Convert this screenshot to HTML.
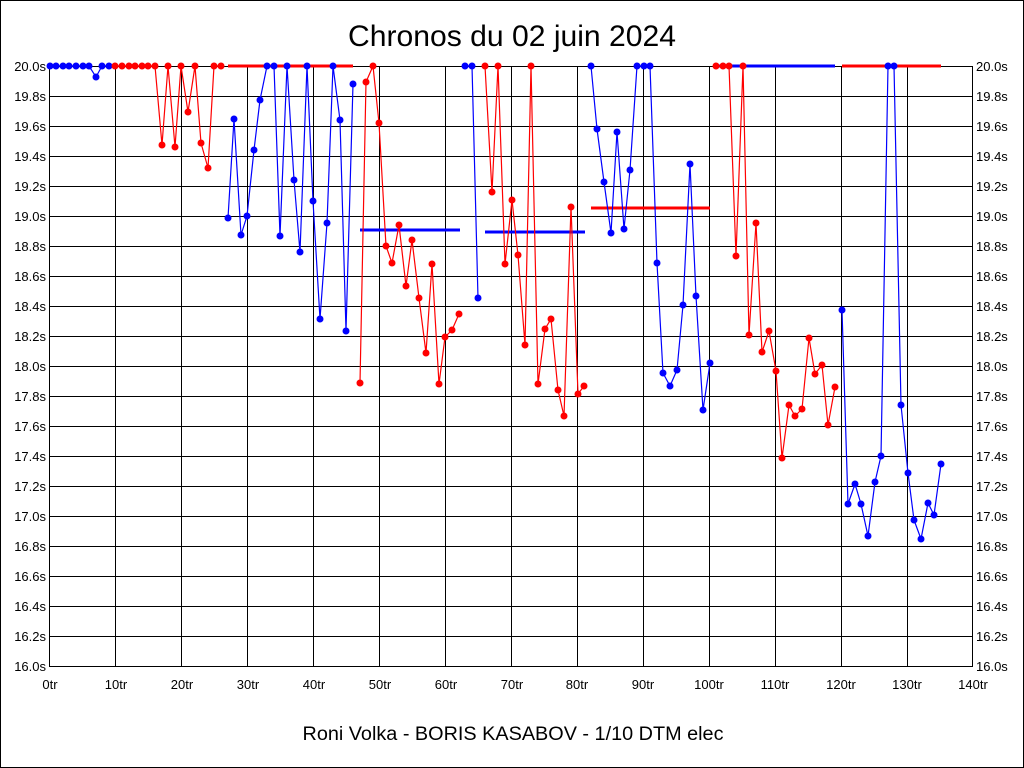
<!DOCTYPE html>
<html><head><meta charset="utf-8"><style>
html,body{margin:0;padding:0;background:#fff}
svg{display:block}
text{font-family:"Liberation Sans",Arial,sans-serif;fill:#000}
</style></head><body>
<svg id="s" width="1024" height="768" viewBox="0 0 1024 768" xmlns="http://www.w3.org/2000/svg">
<rect x="0.5" y="0.5" width="1023" height="767" fill="#fff" stroke="#000"/>
<text x="512" y="46" font-size="30" text-anchor="middle" textLength="328" lengthAdjust="spacingAndGlyphs">Chronos du 02 juin 2024</text>
<g id="grid" stroke="#000" stroke-width="1" fill="none">
<rect x="49.5" y="66.5" width="923" height="600"/>
</g>
<g font-size="13" text-anchor="end">
<text x="46" y="71">20.0s</text><text x="46" y="101">19.8s</text><text x="46" y="131">19.6s</text><text x="46" y="161">19.4s</text><text x="46" y="191">19.2s</text><text x="46" y="221">19.0s</text><text x="46" y="251">18.8s</text><text x="46" y="281">18.6s</text><text x="46" y="311">18.4s</text><text x="46" y="341">18.2s</text><text x="46" y="371">18.0s</text><text x="46" y="401">17.8s</text><text x="46" y="431">17.6s</text><text x="46" y="461">17.4s</text><text x="46" y="491">17.2s</text><text x="46" y="521">17.0s</text><text x="46" y="551">16.8s</text><text x="46" y="581">16.6s</text><text x="46" y="611">16.4s</text><text x="46" y="641">16.2s</text><text x="46" y="671">16.0s</text>
</g>
<g font-size="13" text-anchor="start">
<text x="976" y="71">20.0s</text><text x="976" y="101">19.8s</text><text x="976" y="131">19.6s</text><text x="976" y="161">19.4s</text><text x="976" y="191">19.2s</text><text x="976" y="221">19.0s</text><text x="976" y="251">18.8s</text><text x="976" y="281">18.6s</text><text x="976" y="311">18.4s</text><text x="976" y="341">18.2s</text><text x="976" y="371">18.0s</text><text x="976" y="401">17.8s</text><text x="976" y="431">17.6s</text><text x="976" y="461">17.4s</text><text x="976" y="491">17.2s</text><text x="976" y="521">17.0s</text><text x="976" y="551">16.8s</text><text x="976" y="581">16.6s</text><text x="976" y="611">16.4s</text><text x="976" y="641">16.2s</text><text x="976" y="671">16.0s</text>
</g>
<g font-size="13" text-anchor="middle">
<text x="50" y="689">0tr</text><text x="116" y="689">10tr</text><text x="182" y="689">20tr</text><text x="248" y="689">30tr</text><text x="314" y="689">40tr</text><text x="380" y="689">50tr</text><text x="446" y="689">60tr</text><text x="512" y="689">70tr</text><text x="577" y="689">80tr</text><text x="643" y="689">90tr</text><text x="709" y="689">100tr</text><text x="775" y="689">110tr</text><text x="841" y="689">120tr</text><text x="907" y="689">130tr</text><text x="973" y="689">140tr</text>
</g>
<text x="513" y="740" font-size="19" text-anchor="middle" textLength="421" lengthAdjust="spacingAndGlyphs">Roni Volka - BORIS KASABOV - 1/10 DTM elec</text>
<g stroke-width="3">
<line x1="228" y1="66" x2="353" y2="66" stroke="#f00"/>
<line x1="360" y1="230" x2="460" y2="230" stroke="#00f"/>
<line x1="485" y1="232" x2="585" y2="232" stroke="#00f"/>
<line x1="591" y1="208" x2="710" y2="208" stroke="#f00"/>
<line x1="716" y1="66" x2="835" y2="66" stroke="#00f"/>
<line x1="842" y1="66" x2="941" y2="66" stroke="#f00"/>
</g>
<g id="series"></g>
</svg>
<script>
var g=document.getElementById('grid'),NS='http://www.w3.org/2000/svg';
for(var i=1;i<14;i++){var x=Math.round(49.5+i*923/14)+0.5;var l=document.createElementNS(NS,'line');l.setAttribute('x1',x);l.setAttribute('x2',x);l.setAttribute('y1',66);l.setAttribute('y2',666);g.appendChild(l);}
for(var j=1;j<20;j++){var y=66.5+j*30;var l=document.createElementNS(NS,'line');l.setAttribute('x1',49);l.setAttribute('x2',973);l.setAttribute('y1',y);l.setAttribute('y2',y);g.appendChild(l);}
var S=[
['#00f',[50,66,56,66,63,66,69,66,76,66,83,66,89,66,96,77,102,66,109,66]],
['#f00',[115,66,122,66,129,66,135,66,142,66,148,66,155,66,162,145,168,66,175,147,181,66,188,112,195,66,201,143,208,168,214,66,221,66]],
['#00f',[228,218,234,119,241,235,247,216,254,150,260,100,267,66,274,66,280,236,287,66,294,180,300,252,307,66,313,201,320,319,327,223,333,66,340,120,346,331,353,84]],
['#f00',[360,383,366,82,373,66,379,123,386,246,392,263,399,225,406,286,412,240,419,298,426,353,432,264,439,384,445,337,452,330,459,314]],
['#00f',[465,66,472,66,478,298]],
['#f00',[485,66,492,192,498,66,505,264,512,200,518,255,525,345,531,66,538,384,545,329,551,319,558,390,564,416,571,207,578,394,584,386]],
['#00f',[591,66,597,129,604,182,611,233,617,132,624,229,630,170,637,66,644,66,650,66,657,263,663,373,670,386,677,370,683,305,690,164,696,296,703,410,710,363]],
['#f00',[716,66,723,66,729,66,736,256,743,66,749,335,756,223,762,352,769,331,776,371,782,458,789,405,795,416,802,409,809,338,815,374,822,365,828,425,835,387]],
['#00f',[842,310,848,504,855,484,861,504,868,536,875,482,881,456,888,66,894,66,901,405,908,473,914,520,921,539,928,503,934,515,941,464]]
];
var sg=document.getElementById('series');
S.forEach(function(s){var c=s[0],p=s[1],pts=[];
for(var k=0;k<p.length;k+=2)pts.push(p[k]+','+p[k+1]);
var pl=document.createElementNS(NS,'polyline');pl.setAttribute('points',pts.join(' '));pl.setAttribute('fill','none');pl.setAttribute('stroke',c);pl.setAttribute('stroke-width','1.2');sg.appendChild(pl);
for(var k=0;k<p.length;k+=2){var ci=document.createElementNS(NS,'circle');ci.setAttribute('cx',p[k]);ci.setAttribute('cy',p[k+1]);ci.setAttribute('r',3.5);ci.setAttribute('fill',c);sg.appendChild(ci);}
});
</script>
</body></html>
